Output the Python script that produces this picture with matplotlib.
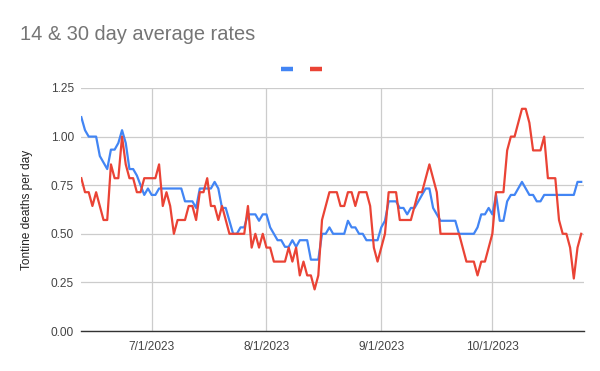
import matplotlib
matplotlib.use("Agg")
import matplotlib.pyplot as plt
from matplotlib.lines import Line2D
import pandas as pd

plt.rcParams['font.family'] = ['Liberation Sans', 'DejaVu Sans']

start_date = '2023-06-12'

# 30 day average (blue)
rate_30 = [
    1.1, 1.033, 1.0, 1.0, 1.0, 0.9, 0.867, 0.833, 0.933, 0.933,
    0.967, 1.033, 0.967, 0.833, 0.833, 0.8, 0.75, 0.7, 0.733, 0.7,
    0.7, 0.733, 0.733, 0.733, 0.733, 0.733, 0.733, 0.733, 0.667, 0.667,
    0.667, 0.633, 0.733, 0.733, 0.733, 0.733, 0.767, 0.733, 0.633, 0.633,
    0.567, 0.5, 0.5, 0.533, 0.533, 0.6, 0.6, 0.6, 0.567, 0.6,
    0.6, 0.533, 0.5, 0.467, 0.467, 0.433, 0.433, 0.467, 0.433, 0.467,
    0.467, 0.467, 0.367, 0.367, 0.367, 0.5, 0.5, 0.533, 0.5, 0.5,
    0.5, 0.5, 0.567, 0.533, 0.533, 0.5, 0.5, 0.467, 0.467, 0.467,
    0.467, 0.533, 0.567, 0.667, 0.667, 0.667, 0.633, 0.633, 0.6, 0.633,
    0.633, 0.667, 0.7, 0.733, 0.733, 0.633, 0.6, 0.567, 0.567, 0.567,
    0.567, 0.567, 0.5, 0.5, 0.5, 0.5, 0.5, 0.533, 0.6, 0.6,
    0.633, 0.6, 0.7, 0.567, 0.567, 0.667, 0.7, 0.7, 0.733, 0.767,
    0.733, 0.7, 0.7, 0.667, 0.667, 0.7, 0.7, 0.7, 0.7, 0.7,
    0.7, 0.7, 0.7, 0.7, 0.767, 0.767,
]

# 14 day average (red)
rate_14 = [
    0.786, 0.714, 0.714, 0.643, 0.714, 0.643, 0.571, 0.571, 0.857, 0.786,
    0.786, 1.0, 0.857, 0.786, 0.786, 0.714, 0.714, 0.786, 0.786, 0.786,
    0.786, 0.857, 0.643, 0.714, 0.643, 0.5, 0.571, 0.571, 0.571, 0.643,
    0.643, 0.571, 0.714, 0.714, 0.786, 0.643, 0.643, 0.571, 0.643, 0.571,
    0.5, 0.5, 0.5, 0.5, 0.5, 0.643, 0.429, 0.5, 0.429, 0.5,
    0.429, 0.429, 0.357, 0.357, 0.357, 0.357, 0.429, 0.357, 0.429, 0.286,
    0.357, 0.286, 0.286, 0.214, 0.286, 0.571, 0.643, 0.714, 0.714, 0.714,
    0.643, 0.643, 0.714, 0.714, 0.643, 0.714, 0.714, 0.714, 0.643, 0.429,
    0.357, 0.429, 0.5, 0.714, 0.714, 0.714, 0.571, 0.571, 0.571, 0.571,
    0.643, 0.714, 0.714, 0.786, 0.857, 0.786, 0.714, 0.5, 0.5, 0.5,
    0.5, 0.5, 0.5, 0.429, 0.357, 0.357, 0.357, 0.286, 0.357, 0.357,
    0.429, 0.5, 0.714, 0.714, 0.714, 0.929, 1.0, 1.0, 1.071, 1.143,
    1.143, 1.071, 0.929, 0.929, 0.929, 1.0, 0.786, 0.786, 0.786, 0.571,
    0.5, 0.5, 0.429, 0.27, 0.429, 0.5,
]

y_ticks = [0.0, 0.25, 0.5, 0.75, 1.0, 1.25]

blue = '#4285F4'
red = '#EA4335'

dates = pd.date_range(start_date, periods=len(rate_30), freq='D')
month_ticks = [d for d in dates if d.day == 1]
month_labels = [f"{d.month}/{d.day}/{d.year}" for d in month_ticks]

fig = plt.figure(figsize=(6, 3.71), dpi=100)
ax = fig.add_axes([81 / 600, 1 - 331 / 371, 503 / 600, 243 / 371])

ax.plot(dates, rate_30, color=blue, lw=1.6, zorder=3)
ax.plot(dates, rate_14, color=red, lw=1.6, zorder=3)

ax.set_ylim(0, 1.25)
ax.set_xlim(dates[0] - pd.Timedelta(hours=2), dates[-1] + pd.Timedelta(hours=18))
ax.set_yticks(y_ticks)
ax.set_yticklabels([f"{v:.2f}" for v in y_ticks])
ax.set_xticks(month_ticks)
ax.set_xticklabels(month_labels)

ax.grid(True, color='#cccccc', lw=0.9)
ax.set_axisbelow(True)
for side in ['top', 'right', 'left']:
    ax.spines[side].set_visible(False)
ax.spines['bottom'].set_color('#333333')
ax.spines['bottom'].set_linewidth(1.0)
ax.spines['bottom'].set_zorder(4)
ax.tick_params(axis='both', length=0, labelsize=8.6, colors='#444444')
ax.tick_params(axis='x', pad=7)
ax.tick_params(axis='y', pad=5)

ax.set_ylabel('Tontine deaths per day', fontsize=8.6, color='#222222')
ax.yaxis.set_label_coords(-0.095, 0.5)

fig.text(20 / 600, 1 - 35 / 371, '14 & 30 day average rates', fontsize=14.4,
         color='#757575', va='center', ha='left')

handles = [Line2D([], [], color=blue, lw=3.2, solid_capstyle='butt'),
           Line2D([], [], color=red, lw=3.2, solid_capstyle='butt')]
fig.legend(handles, ['', ''], loc='center', bbox_to_anchor=(0.5025, 1 - 70 / 371),
           ncol=2, frameon=False, handlelength=1.0, handletextpad=0,
           columnspacing=1.4, fontsize=8.6)

fig.savefig('out.png', dpi=100)
